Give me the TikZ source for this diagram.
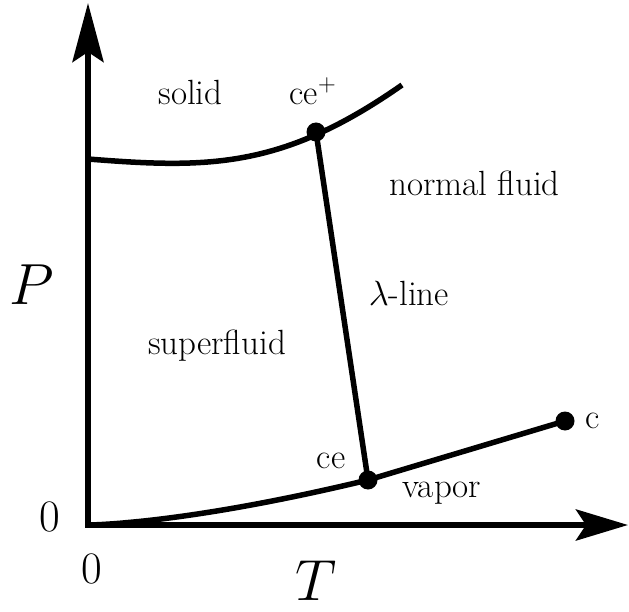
\RequirePackage{fix-cm}
\documentclass[tikz,border=0pt]{standalone}
\usepackage{fontspec}
\usetikzlibrary{arrows.meta}
\begin{document}
\begin{tikzpicture}[x=1pt,y=-1pt,
  curve/.style={line width=5.5pt},
  axis/.style={line width=6pt, line join=miter,
    {Stealth[length=59pt,width=31pt,inset=10pt]}-{Stealth[length=52pt,width=31pt,inset=10pt]}},
  lbl/.style={inner sep=0pt, font=\fontsize{35}{40}\selectfont},
  big/.style={inner sep=0pt, font=\fontsize{58}{64}\selectfont},
  num/.style={inner sep=0pt, font=\fontsize{45}{50}\selectfont},
  dot/.style={circle, fill=black, inner sep=0pt, minimum size=19pt}]
\useasboundingbox (0,0) rectangle (629,612);
% axes
\coordinate (ytip) at (88,3);
\coordinate (O) at (88,525);
\coordinate (xtip) at (628,525);
\draw[axis] (ytip) -- (O) -- (xtip);
% key points
\coordinate (cep) at (316,132);
\coordinate (ce) at (368,480);
\coordinate (c) at (565,421);
\coordinate (s0) at (88,159);
\coordinate (s1) at (402,85);
% solid-fluid line
\draw[curve] (s0) .. controls (208,168.6) and (282,169) .. (s1);
% lambda line
\draw[curve] (cep) -- (ce);
% vapor line
\draw[curve] plot[domain=0:280,samples=60] ({88+\x},{525-45*(\x/280)^1.5}) -- (c);
% dots
\node[dot] (dcep) at (cep) {};
\node[dot] (dce) at (ce) {};
\node[dot] (dc) at (c) {};
% labels
\node[lbl] (lsolid) at (190.5,92) {solid};
\node[lbl] (lcep) at (313,91) {ce$^+$};
\node[lbl] (lnormal) at (474.5,183) {normal fluid};
\node[lbl] (llambda) at (409,293) {$\lambda$-line};
\node[lbl] (lsuper) at (217,346) {superfluid};
\node[lbl] (lce) at (331,461) {ce};
\node[lbl] (lvapor) at (442,493) {vapor};
\node[lbl] (lc) at (593,421) {c};
\node[big] (lP) at (32,285) {$P$};
\node[big] (lT) at (316,581) {$T$};
\node[num] (l0y) at (50,517) {0};
\node[num] (l0x) at (92,569) {0};
\end{tikzpicture}
\end{document}
